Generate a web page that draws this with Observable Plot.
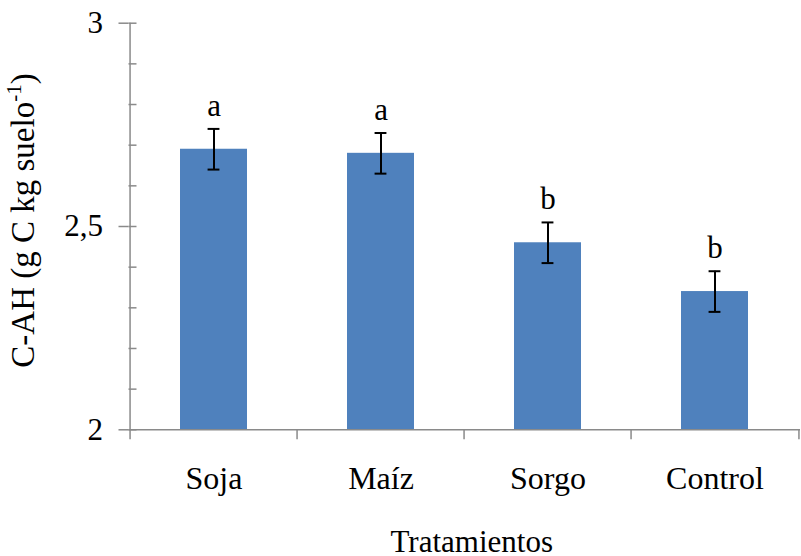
<!DOCTYPE html>
<html>
<head>
<meta charset="utf-8">
<script src="https://cdn.jsdelivr.net/npm/d3@7"></script>
<script src="https://cdn.jsdelivr.net/npm/@observablehq/plot@0.6"></script>
<style>
  html, body { margin: 0; padding: 0; background: #fff; }
</style>
</head>
<body>
<div id="chart"></div>
<script>
// Humic-acid carbon by treatment (means ± error, letters = significance groups)
const categories = ["Soja", "Maíz", "Sorgo", "Control"];
const means = [2.69, 2.68, 2.46, 2.34];
const errors = [0.05, 0.05, 0.05, 0.05];
const letters = ["a", "a", "b", "b"];

const yDomain = [2, 3];
const yMajorTicks = [2, 2.5, 3];
const yMinorTicks = [2, 2.1, 2.2, 2.3, 2.4, 2.5, 2.6, 2.7, 2.8, 2.9, 3];

const xTitle = "Tratamientos";
const yTitleMain = "C-AH (g C kg suelo";
const yTitleSup = "-1";
const yTitleEnd = ")";

const rows = categories.map((c, i) => ({
  cat: c, value: means[i], err: errors[i], letter: letters[i]
}));

// Layout
const W = 801, H = 556;
const mLeft = 128.5, mRight = 1, mTop = 22.7, mBottom = 126.7;
const frameW = W - mLeft - mRight;
const frameH = H - mTop - mBottom;
const step = frameW / categories.length;
const bandW = step * 0.4;
const capW = 12;

const axisColor = "#8a8a8a";
const barColor = "#4f81bd";
const font = "Liberation Serif";

const chart = Plot.plot({
  width: W,
  height: H,
  marginLeft: mLeft,
  marginRight: mRight,
  marginTop: mTop,
  marginBottom: mBottom,
  style: "font-family: 'Liberation Serif', serif; font-size: 31px; color: #000; background: #fff; overflow: visible;",
  x: { domain: categories, paddingInner: 0.6, paddingOuter: 0.3, axis: null },
  y: { domain: yDomain, axis: null },
  marks: [
    // bars
    Plot.barY(rows, { x: "cat", y1: () => yDomain[0], y2: "value", fill: barColor }),

    // value axis line and category axis line
    Plot.ruleX(categories.slice(0, 1), { x: d => d, dx: -step / 2, stroke: axisColor, strokeWidth: 1.5 }),
    Plot.ruleY([yDomain[0]], { stroke: axisColor, strokeWidth: 1.5 }),

    // category boundary ticks below the axis
    Plot.ruleX(categories, { x: d => d, dx: -step / 2, insetTop: frameH, insetBottom: -10, stroke: axisColor, strokeWidth: 1.5 }),
    Plot.ruleX(categories.slice(-1), { x: d => d, dx: step / 2, insetTop: frameH, insetBottom: -10, stroke: axisColor, strokeWidth: 1.5 }),

    // inner minor ticks on the value axis
    Plot.ruleY(yMinorTicks, { y: d => d, insetRight: frameW - 8, stroke: axisColor, strokeWidth: 1.5 }),

    // major ticks and labels on the value axis
    Plot.axisY({
      ticks: yMajorTicks,
      tickSize: 10,
      tickPadding: 16,
      tickFormat: d => String(d).replace(".", ","),
      stroke: axisColor,
      strokeWidth: 1.5,
      fill: "#000",
      fontSize: 31,
      fontFamily: font,
      label: null
    }),

    // category labels
    Plot.axisX({
      tickSize: 0,
      tickPadding: 36,
      fill: "#000",
      fontSize: 32,
      fontFamily: font,
      label: null
    }),

    // error bars
    Plot.ruleX(rows, { x: "cat", y1: d => d.value - d.err, y2: d => d.value + d.err, stroke: "#000", strokeWidth: 2 }),
    Plot.tickY(rows, { x: "cat", y: d => d.value + d.err, insetLeft: (bandW - capW) / 2, insetRight: (bandW - capW) / 2, stroke: "#000", strokeWidth: 2 }),
    Plot.tickY(rows, { x: "cat", y: d => d.value - d.err, insetLeft: (bandW - capW) / 2, insetRight: (bandW - capW) / 2, stroke: "#000", strokeWidth: 2 }),

    // significance letters
    Plot.text(rows, { x: "cat", y: d => d.value + d.err, text: "letter", dy: -13, lineAnchor: "bottom", textAnchor: "middle", fontSize: 31, fontFamily: font, fill: "#000" }),

    // axis titles
    Plot.text([xTitle], { text: d => d, frameAnchor: "bottom", dx: 7, dy: 122, lineAnchor: "bottom", textAnchor: "middle", fontSize: 31, fontFamily: font, fill: "#000" }),
    Plot.text([yTitleMain + yTitleSup + yTitleEnd], { text: d => d, frameAnchor: "left", rotate: -90, dx: 33 - mLeft, dy: -6, lineAnchor: "bottom", textAnchor: "middle", fontSize: 33, fontFamily: font, fill: "#000" })
  ]
});

// Superscript the exponent in the y title; pin the serif face on every label
const fullTitle = yTitleMain + yTitleSup + yTitleEnd;
for (const t of chart.querySelectorAll("text")) {
  t.style.fontFamily = "'Liberation Serif', serif";
  if (t.textContent === fullTitle) {
    const ns = "http://www.w3.org/2000/svg";
    while (t.firstChild) t.removeChild(t.firstChild);
    const a = document.createElementNS(ns, "tspan");
    a.textContent = yTitleMain;
    const b = document.createElementNS(ns, "tspan");
    b.textContent = yTitleSup;
    b.setAttribute("font-size", "21");
    b.setAttribute("dy", "-13");
    const c = document.createElementNS(ns, "tspan");
    c.textContent = yTitleEnd;
    c.setAttribute("dy", "13");
    t.append(a, b, c);
  }
}

document.getElementById("chart").appendChild(chart);
</script>
</body>
</html>
